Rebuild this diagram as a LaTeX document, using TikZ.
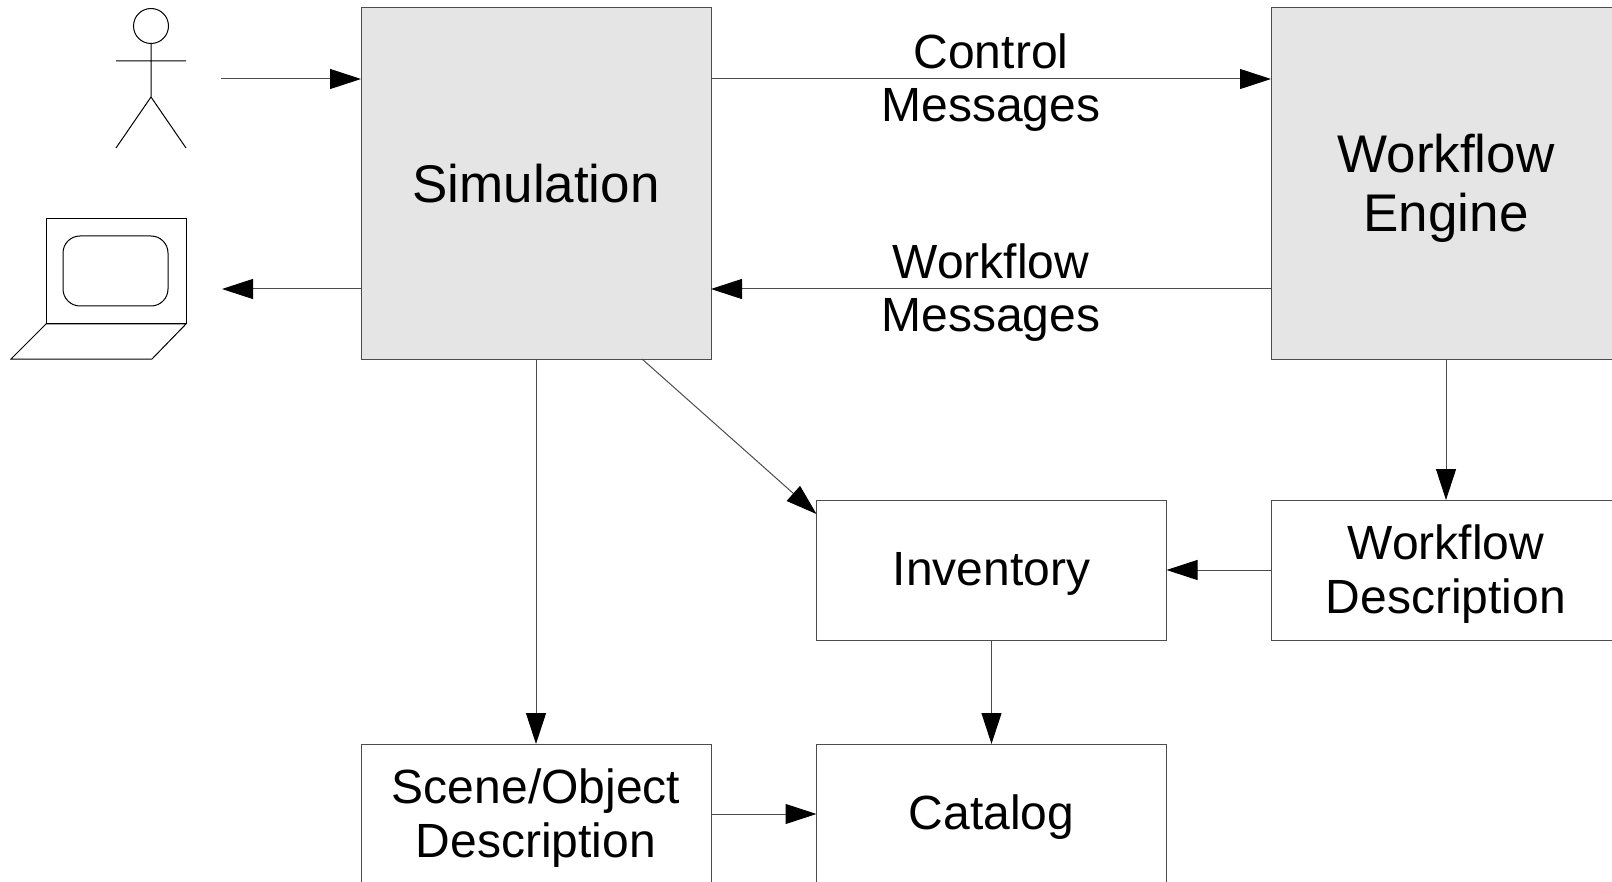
\documentclass[tikz,border=0pt]{standalone}
\usepackage{fontspec}
\setmainfont{Liberation Sans}
\usetikzlibrary{arrows.meta,calc}

\begin{document}
\begin{tikzpicture}[x=0.5pt,y=-0.5pt,
  box/.style={shape=rectangle, draw=black!70, line width=0.5pt, inner sep=0pt, outer sep=0pt,
    minimum width=175pt, minimum height=70pt, align=center, font=\fontsize{24}{27}\selectfont},
  bigbox/.style={box, fill=black!10, minimum height=175.5pt, font=\fontsize{26.5}{29.5}\selectfont},
  oneline/.style={text height=20.5pt},
  twoline/.style={text depth=1pt},
  arr/.style={draw=black!70, line width=0.5pt, -{Triangle[length=15.5pt,width=10pt,black]}},
  lbl/.style={align=center, font=\fontsize{24}{26.5}\selectfont, yshift=-2pt},
  fig/.style={draw=black, line width=0.5pt}]
\useasboundingbox (0,0) rectangle (1612,882);
% user and screen
\draw[fig] (151,26) circle (8.75pt);
\draw[fig] (151,43) -- (151,97) (116,61) -- (186,61) (116,148) -- (151,97) -- (186,148);
\draw[fig] (46,219) rectangle (186,324);
\draw[fig, rounded corners=8.5pt] (63,236) rectangle (168,306);
\draw[fig] (46,324) -- (186,324) -- (152,359) -- (11,359) -- cycle;
\coordinate (usr) at (221,79);
\coordinate (lap) at (222,289);
% boxes
\node[bigbox](sim) at (536,183.5) {Simulation};
\node[bigbox, twoline](eng) at (1446,183.5) {Workflow\\Engine};
\node[box, oneline](inv) at (991.5,570) {Inventory};
\node[box, twoline](wfd) at (1446,570) {Workflow\\Description};
\node[box, twoline](scene) at (536,814) {Scene/Object\\Description};
\node[box, oneline](cat) at (991.5,814) {Catalog};
% arrows
\draw[arr] (usr) -- (usr -| sim.west);
\draw[arr] (lap -| sim.west) -- (lap);
\draw[arr] (sim.east |- usr) -- node[lbl]{Control\\Messages} (eng.west |- usr);
\draw[arr] (eng.west |- lap) -- node[lbl]{Workflow\\Messages} (sim.east |- lap);
\draw[arr] (sim) -- (scene);
\draw[arr] ($(sim.south west)!0.803!(sim.south east)$) -- ($(inv.north west)!0.1!(inv.south west)$);
\draw[arr] (eng) -- (wfd);
\draw[arr] (wfd) -- (inv);
\draw[arr] (inv) -- (cat);
\draw[arr] (scene) -- (cat);
\end{tikzpicture}
\end{document}
